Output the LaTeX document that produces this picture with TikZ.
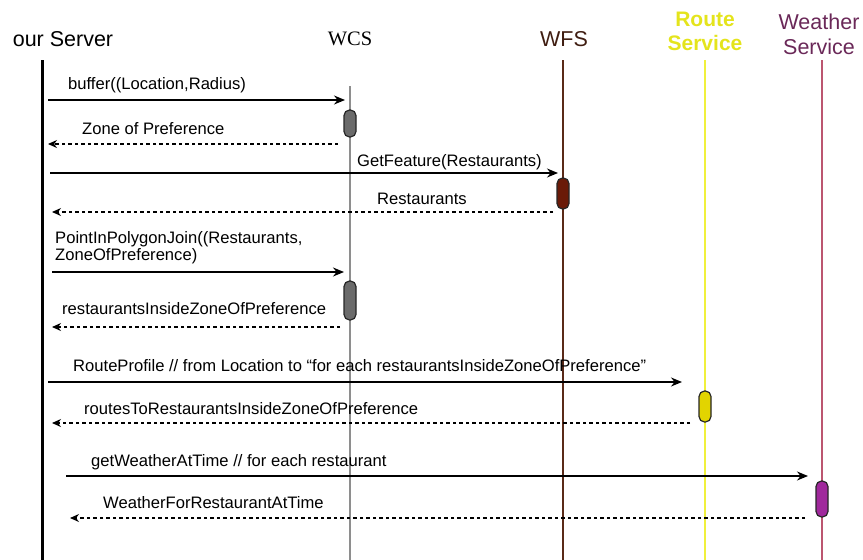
\documentclass[tikz,border=0pt]{standalone}
\usepackage{fontspec}
\setmainfont{Liberation Sans}
\newfontfamily\serifhead{Liberation Serif}
\usetikzlibrary{arrows.meta}

\definecolor{wcsgray}{HTML}{8E8E8E}
\definecolor{wfsbrown}{HTML}{5A2A18}
\definecolor{wfsfill}{HTML}{6A1A08}
\definecolor{routeyellow}{HTML}{F0F03C}
\definecolor{routetext}{HTML}{E4E41C}
\definecolor{routefill}{HTML}{E2D400}
\definecolor{weatherline}{HTML}{BC5670}
\definecolor{weathertext}{HTML}{6A2858}
\definecolor{weatherfill}{HTML}{A0289C}

\begin{document}
\begin{tikzpicture}[
    x=1pt, y=-1pt,
    head/.style={align=center, inner sep=0pt, font=\fontsize{21.5}{25}\selectfont},
    msglabel/.style={anchor=base west, inner sep=0pt, font=\fontsize{16.6}{17}\selectfont},
    call/.style={-{Stealth[length=11pt,width=9pt]}, line width=1.5pt},
    reply/.style={-{Stealth[length=9pt,width=8pt]}, line width=1.3pt, dash pattern=on 3.5pt off 3pt},
    act/.style={rectangle, rounded corners=5.5pt, draw=black!85, line width=1.2pt, minimum width=12pt}
]
\useasboundingbox (0,0) rectangle (863,560);

% participants
\node[head] (srv) at (63,39) {our Server};
\node[head, font=\serifhead\fontsize{20.5}{24}\selectfont] (wcs) at (350,39) {WCS};
\node[head, text=wfsbrown!70!black] (wfs) at (564,39) {WFS};
\node[head, text=routetext, font=\bfseries\fontsize{21}{24}\selectfont] (route) at (705,31) {Route\\Service};
\node[head, text=weathertext] (weather) at (819,34) {Weather\\Service};

% lifelines
\coordinate (srvtop) at (42,60);      \coordinate (srvbot) at (42,560);
\coordinate (wcstop) at (350,86);     \coordinate (wcsbot) at (350,560);
\coordinate (wfstop) at (563,60);     \coordinate (wfsbot) at (563,560);
\coordinate (routetop) at (705,60);   \coordinate (routebot) at (705,560);
\coordinate (weathertop) at (822,60); \coordinate (weatherbot) at (822,560);
\draw[line width=3pt] (srvtop) -- (srvbot);
\draw[wcsgray, line width=2pt] (wcstop) -- (wcsbot);
\draw[wfsbrown, line width=2pt] (wfstop) -- (wfsbot);
\draw[routeyellow, line width=2.5pt] (routetop) -- (routebot);
\draw[weatherline, line width=2pt] (weathertop) -- (weatherbot);

% activations
\node[act, fill=black!58, minimum height=27pt] (wcsact1) at (350,123.5) {};
\node[act, fill=wfsfill, minimum height=31pt] (wfsact) at (563,193.5) {};
\node[act, fill=black!58, minimum height=39pt] (wcsact2) at (350,300.5) {};
\node[act, fill=routefill, minimum height=31pt] (routeact) at (705,406.5) {};
\node[act, fill=weatherfill, minimum height=36pt] (weatheract) at (822,499) {};

% message end points
\path (48,100) coordinate (m1a)  (345,100) coordinate (m1b)
      (338,144) coordinate (m2a) (48,144) coordinate (m2b)
      (50,173) coordinate (m3a)  (558,173) coordinate (m3b)
      (553,212) coordinate (m4a) (52,212) coordinate (m4b)
      (52,272) coordinate (m5a)  (344,272) coordinate (m5b)
      (340,327) coordinate (m6a) (52,327) coordinate (m6b)
      (48,382) coordinate (m7a)  (682,382) coordinate (m7b)
      (690,423) coordinate (m8a) (52,423) coordinate (m8b)
      (66,476) coordinate (m9a)  (808,476) coordinate (m9b)
      (805,518) coordinate (m10a) (70,518) coordinate (m10b);

% messages
\draw[call] (m1a) -- (m1b);
\node[msglabel] (bufferlbl) at (68,89) {buffer((Location,Radius)};
\draw[reply] (m2a) -- (m2b);
\node[msglabel] (zonelbl) at (82,134) {Zone of Preference};
\draw[call] (m3a) -- (m3b);
\node[msglabel] (getfeaturelbl) at (357,166) {GetFeature(Restaurants)};
\draw[reply] (m4a) -- (m4b);
\node[msglabel] (restaurantslbl) at (377,204) {Restaurants};
\draw[call] (m5a) -- (m5b);
\node[msglabel, anchor=west, align=left] (joinlbl) at (55,248) {PointInPolygonJoin((Restaurants,\\ZoneOfPreference)};
\draw[reply] (m6a) -- (m6b);
\node[msglabel] (insidelbl) at (62,314) {restaurantsInsideZoneOfPreference};
\draw[call] (m7a) -- (m7b);
\node[msglabel] (routeprofilelbl) at (73,371) {RouteProfile // from Location to “for each restaurantsInsideZoneOfPreference”};
\draw[reply] (m8a) -- (m8b);
\node[msglabel] (routeslbl) at (84,414) {routesToRestaurantsInsideZoneOfPreference};
\draw[call] (m9a) -- (m9b);
\node[msglabel] (getweatherlbl) at (91,466) {getWeatherAtTime // for each restaurant};
\draw[reply] (m10a) -- (m10b);
\node[msglabel] (weatherlbl) at (103,508) {WeatherForRestaurantAtTime};
\end{tikzpicture}
\end{document}
